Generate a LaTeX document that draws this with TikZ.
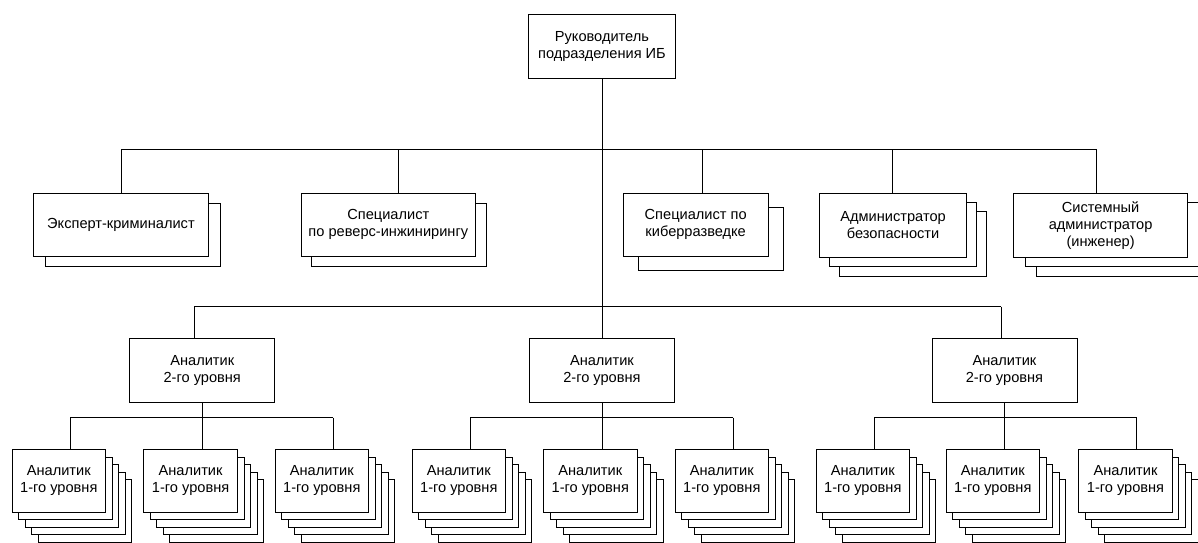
\documentclass[tikz,border=0pt]{standalone}
\usepackage{fontspec}
\setmainfont{Liberation Sans}
\usetikzlibrary{shadows}
\tikzset{
  box/.style={draw=black, line width=0.9pt, fill=white, inner sep=0pt, anchor=north west,
    align=center, font=\fontsize{14.6}{17}\selectfont},
  conn/.style={draw=black, line width=0.9pt},
  oneshadow/.style 2 args={general shadow={shadow xshift=#1pt, shadow yshift=-#2pt, fill=white, draw=black}},
  twoshadow/.style 2 args={
    general shadow={shadow xshift=2*#1pt, shadow yshift=-2*#2pt, fill=white, draw=black},
    general shadow={shadow xshift=#1pt, shadow yshift=-#2pt, fill=white, draw=black}},
  fourshadow/.style={
    general shadow={shadow xshift=26pt, shadow yshift=-30pt, fill=white, draw=black},
    general shadow={shadow xshift=19.5pt, shadow yshift=-22.5pt, fill=white, draw=black},
    general shadow={shadow xshift=13pt, shadow yshift=-15pt, fill=white, draw=black},
    general shadow={shadow xshift=6.5pt, shadow yshift=-7.5pt, fill=white, draw=black}},
  lvltwo/.style={box, minimum width=145pt, minimum height=63.4pt},
  lvlone/.style={box, minimum width=93.7pt, minimum height=62.4pt, fourshadow},
}
\begin{document}
\begin{tikzpicture}[x=1pt, y=-1pt]
\useasboundingbox (0,0) rectangle (1198,542);
\fill[white] (0,0) rectangle (1198,542);

% head
\node[box, minimum width=146.4pt, minimum height=64pt] (R) at (528.3,14.3) {Руководитель\\подразделения ИБ};

% specialists
\node[box, minimum width=174.4pt, minimum height=63.3pt, oneshadow={12}{10}] (E) at (33.3,192.7) {Эксперт-криминалист};
\node[box, minimum width=174.3pt, minimum height=63.3pt, oneshadow={10.7}{10}] (Rev) at (300.7,192.7) {Специалист\\по реверс-инжинирингу};
\node[box, minimum width=145pt, minimum height=63.3pt, oneshadow={15}{14}] (K) at (622.7,192.7) {Специалист по\\киберразведке};
\node[box, minimum width=146.7pt, minimum height=64.3pt, twoshadow={10}{9.3}] (AB) at (819.3,192.7) {Администратор\\безопасности};
\node[box, minimum width=174.3pt, minimum height=64pt, twoshadow={11.5}{9.7}] (SA) at (1013,192.7) {Системный\\администратор\\(инженер)};

% second-level analysts
\node[lvltwo] (L2a) at (129.3,338.3) {Аналитик\\2-го уровня};
\node[lvltwo] (L2b) at (529,338.3) {Аналитик\\2-го уровня};
\node[lvltwo] (L2c) at (931.5,338.3) {Аналитик\\2-го уровня};

% main trunk
\draw[conn] (R.south) -- (L2b.north);

% bus to specialists
\coordinate (b2a) at (121,149);
\coordinate (b2b) at (398.3,149);
\coordinate (b2c) at (702.5,149);
\coordinate (b2d) at (892.5,149);
\coordinate (b2e) at (1096.5,149);
\draw[conn] (b2a) -- (b2e);
\draw[conn] (b2a) -- (b2a |- E.north);
\draw[conn] (b2b) -- (b2b |- Rev.north);
\draw[conn] (b2c) -- (b2c |- K.north);
\draw[conn] (b2d) -- (b2d |- AB.north);
\draw[conn] (b2e) -- (b2e |- SA.north);

% bus to second-level analysts
\coordinate (b3a) at (194,306.7);
\coordinate (b3c) at (1001,306.7);
\draw[conn] (b3a) -- (b3c);
\draw[conn] (b3a) -- (b3a |- L2a.north);
\draw[conn] (b3c) -- (b3c |- L2c.north);

% first-level analysts
\foreach \g/\xa/\xb/\xc in {a/70/201.8/333, b/470/601.5/733, c/874/1004/1136.7} {
  \node[lvlone] (L1\g1) at (\xa-58.5,449.3) {Аналитик\\1-го уровня};
  \node[lvlone] (L1\g2) at (\xb-58.5,449.3) {Аналитик\\1-го уровня};
  \node[lvlone] (L1\g3) at (\xc-58.5,449.3) {Аналитик\\1-го уровня};
  \coordinate (b4\g1) at (\xa,417.7);
  \coordinate (b4\g3) at (\xc,417.7);
  \draw[conn] (b4\g1) -- (b4\g3);
  \draw[conn] (b4\g1) -- (b4\g1 |- L1\g1.north);
  \draw[conn] (b4\g3) -- (b4\g3 |- L1\g3.north);
  \draw[conn] (L2\g.south) -- (L2\g.south |- L1\g2.north);
}
\end{tikzpicture}
\end{document}
